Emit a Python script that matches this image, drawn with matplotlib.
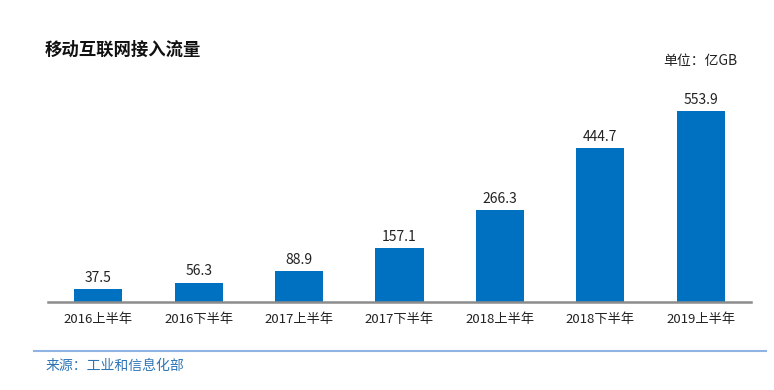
import matplotlib.pyplot as plt
from matplotlib.lines import Line2D

plt.rcParams['font.family'] = ['Noto Sans CJK SC', 'DejaVu Sans']

periods = ["2016上半年", "2016下半年", "2017上半年", "2017下半年",
           "2018上半年", "2018下半年", "2019上半年"]
traffic = [37.5, 56.3, 88.9, 157.1, 266.3, 444.7, 553.9]

W, H = 774, 390
fig = plt.figure(figsize=(W / 100, H / 100), dpi=100)

# axes: left 48px, right 751px, bottom 302px, top 80px
ax = fig.add_axes([48 / W, (H - 302) / H, (751 - 48) / W, (302 - 80) / H])
x = range(len(periods))
bars = ax.bar(x, traffic, width=0.48, color="#0070C0", zorder=2)
for xi, v in zip(x, traffic):
    ax.text(xi, v + 12, f"{v:.1f}", ha="center", va="bottom", fontsize=10, color="#222222")

ax.set_xlim(-0.5, len(periods) - 0.5)
ax.set_ylim(0, 643)
ax.set_xticks(list(x))
ax.set_xticklabels(periods, fontsize=9.5, color="#222222")
ax.tick_params(axis="x", length=0, pad=8)
ax.set_yticks([])
for s in ["top", "right", "left"]:
    ax.spines[s].set_visible(False)
ax.spines["bottom"].set_color("#8c8c8c")
ax.spines["bottom"].set_linewidth(1.8)

fig.text(45 / W, 1 - 50 / H, "移动互联网接入流量", fontsize=12.5, fontweight="bold",
         ha="left", va="center", color="#111111")
fig.text(737 / W, 1 - 61 / H, "单位：亿GB", fontsize=10, ha="right", va="center", color="#222222")

fig.add_artist(Line2D([34 / W, 766 / W], [1 - 351 / H, 1 - 351 / H],
                      color="#8fb4e3", linewidth=1.5, transform=fig.transFigure))
fig.text(46 / W, 1 - 366 / H, "来源：工业和信息化部", fontsize=10, ha="left", va="center",
         color="#2e75b6")

fig.savefig("out.png", dpi=100)
